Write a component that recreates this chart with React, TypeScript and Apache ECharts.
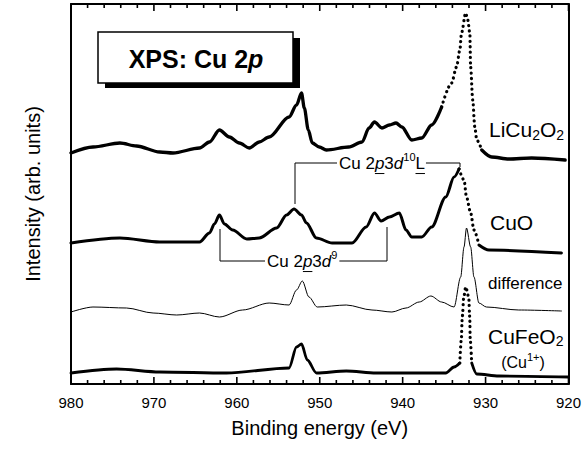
import React, { useEffect, useRef } from "react";
import * as echarts from "echarts";

// Binding energy (eV) vs intensity (arb. units, stacked offsets)
const energyTicks = [980, 970, 960, 950, 940, 930, 920];
const minorEnergyTicks = [
  978, 976, 974, 972, 968, 966, 964, 962, 958, 956, 954, 952, 948, 946, 944, 942,
  938, 936, 934, 932, 928, 926, 924, 922,
];

const liCu2O2: [number, number][] = [
  [980, 231], [977.35, 237], [974.1, 241], [972.1, 238], [969.3, 232], [967.7, 231],
  [964.5, 236], [963.3, 242], [962.1, 254], [960.9, 247], [959.7, 241], [958.5, 236],
  [957.3, 242], [956.1, 247], [953.7, 267], [952.8, 279], [952.2, 291], [951.86, 276],
  [951.38, 254], [950.9, 241], [950.06, 237], [949.2, 234], [946.5, 237], [944.9, 242],
  [944.05, 256], [943.4, 262], [942.5, 256], [941.6, 259], [940.8, 261], [940.1, 257],
  [938.9, 244], [937.7, 246], [936.5, 259], [935.3, 277], [934.1, 301], [933.5, 317],
  [933.1, 334], [932.9, 351], [932.4, 371], [932.15, 364], [931.9, 351], [931.8, 317],
  [931.55, 284], [931.3, 257], [931.06, 244], [930.46, 234], [929.26, 227], [927.2, 225],
  [924.45, 226], [920.4, 224],
];

const cuO: [number, number][] = [
  [980, 141], [974.1, 146], [969.3, 142], [964.5, 142], [963.3, 151], [962.7, 160],
  [962.1, 169], [961.5, 160], [960.5, 154], [958.8, 145], [957.3, 146], [955.2, 156],
  [954.0, 169], [953.1, 175], [952.2, 169], [951.6, 161], [950.4, 146], [948.5, 141],
  [946.1, 141], [944.4, 157], [943.4, 171], [942.6, 163], [941.6, 167], [940.4, 171],
  [939.6, 154], [938.9, 147], [937.7, 147], [936.5, 157], [934.8, 187], [933.8, 207],
  [933.2, 215], [932.6, 204], [932.3, 187], [931.8, 171], [931.4, 154], [930.8, 139],
  [929.6, 134], [920.85, 131],
];

const difference: [number, number][] = [
  [980, 72], [977.35, 77], [973.3, 76], [970.1, 71], [967.25, 69], [964.5, 71],
  [962.1, 67], [959.3, 74], [956.1, 81], [953.7, 79], [952.8, 94], [952.1, 103],
  [951.3, 87], [950.3, 77], [946.8, 79], [943.7, 74], [941.3, 72], [939.6, 76],
  [938.0, 82], [936.6, 88], [935.3, 82], [933.8, 77], [933.0, 107], [932.6, 137],
  [932.3, 156], [931.8, 137], [931.4, 107], [930.8, 81], [929.9, 77], [926.0, 74],
  [920.85, 73],
];

const cuFeO2: [number, number][] = [
  [980, 11], [974.5, 15], [969.3, 12], [961.25, 11], [953.7, 16], [952.8, 37],
  [952.2, 40], [951.5, 24], [950.4, 11], [946.8, 13], [943.2, 11], [934.8, 11],
  [933.8, 17], [933.11, 21], [932.93, 44], [932.81, 67], [932.63, 87], [932.39, 97],
  [932.03, 87], [931.91, 67], [931.85, 44], [931.67, 21], [931.06, 10], [928.4, 8],
  [920, 7],
];

const FONT = '"Liberation Sans", Arial, Helvetica, sans-serif';
const Y_MAX = 380;

type Run = { t: string; size: number; italic?: boolean; bold?: boolean; dy?: number; underline?: boolean };

function fontStr(r: Run) {
  return `${r.italic ? "italic " : ""}${r.bold ? "bold " : ""}${r.size}px ${FONT}`;
}

let mctx: CanvasRenderingContext2D | null = null;
function measure(r: Run) {
  if (!mctx) mctx = document.createElement("canvas").getContext("2d");
  mctx!.font = fontStr(r);
  return mctx!.measureText(r.t).width;
}

function textRuns(x: number, y: number, list: Run[], align: "left" | "center" | "right" = "left") {
  const widths = list.map(measure);
  const total = widths.reduce((a, b) => a + b, 0);
  let cx = align === "left" ? x : align === "right" ? x - total : x - total / 2;
  const start = cx;
  const els: any[] = [];
  list.forEach((r, i) => {
    els.push({
      type: "text",
      x: cx,
      y: y + (r.dy || 0),
      silent: true,
      style: {
        text: r.t,
        font: fontStr(r),
        fill: "#000",
        textAlign: "left",
        textVerticalAlign: "middle",
        verticalAlign: "middle",
      },
    });
    if (r.underline) {
      const uy = y + (r.dy || 0) + r.size * 0.62;
      els.push({
        type: "line",
        silent: true,
        shape: { x1: cx, y1: uy, x2: cx + widths[i], y2: uy },
        style: { stroke: "#000", lineWidth: 1 },
      });
    }
    cx += widths[i];
  });
  return { els, start, end: cx };
}

function split(data: [number, number][], from: number, to: number) {
  return [
    data.filter((p) => p[0] >= from),
    data.filter((p) => p[0] <= from && p[0] >= to),
    data.filter((p) => p[0] <= to),
  ];
}

function line(data: [number, number][], width: number, dotted = false) {
  return {
    type: "line",
    data,
    symbol: "none",
    showSymbol: false,
    smooth: 0.3,
    smoothMonotone: "x",
    silent: true,
    xAxisIndex: 0,
    yAxisIndex: 0,
    z: 3,
    lineStyle: dotted
      ? { color: "#000", width: 3.2, type: [0.1, 5.2], cap: "round" }
      : { color: "#000", width, cap: "round", join: "round" },
  };
}

// tick marks drawn as thin rectangular symbols sitting on the frame edges
function tickSeries(values: number[], atY: number, len: number, down: boolean) {
  return {
    type: "scatter",
    xAxisIndex: 0,
    yAxisIndex: 0,
    silent: true,
    clip: false,
    z: 10,
    symbol: "rect",
    symbolSize: [1.6, len],
    symbolOffset: [0, down ? len / 2 : -len / 2],
    itemStyle: { color: "#000", opacity: 1 },
    emphasis: { disabled: true },
    data: values.map((e) => [e, atY]),
  };
}

function buildGraphics() {
  const g: any[] = [];
  // title box with shadow
  g.push({ type: "rect", silent: true, shape: { x: 105, y: 38, width: 195, height: 50 }, style: { fill: "#000" } });
  g.push({ type: "rect", silent: true, shape: { x: 98, y: 32, width: 195, height: 51 }, style: { fill: "#fff", stroke: "#000", lineWidth: 1.5 } });
  g.push(
    ...textRuns(196, 59, [
      { t: "XPS: Cu 2", size: 25, bold: true },
      { t: "p", size: 25, bold: true, italic: true },
    ], "center").els
  );

  // sample labels
  g.push(
    ...textRuns(489, 129, [
      { t: "LiCu", size: 21 },
      { t: "2", size: 14, dy: 6 },
      { t: "O", size: 21 },
      { t: "2", size: 14, dy: 6 },
    ]).els
  );
  g.push(...textRuns(490, 222, [{ t: "CuO", size: 21 }]).els);
  g.push(...textRuns(488, 283, [{ t: "difference", size: 17 }]).els);
  g.push(
    ...textRuns(488, 336, [
      { t: "CuFeO", size: 21 },
      { t: "2", size: 14, dy: 5 },
    ]).els
  );
  g.push(
    ...textRuns(523, 362, [
      { t: "(Cu", size: 16 },
      { t: "1+", size: 11, dy: -5 },
      { t: ")", size: 16 },
    ], "center").els
  );

  // Cu 2p3d10L bracket
  const a = textRuns(339, 163, [
    { t: "Cu 2", size: 17 },
    { t: "p", size: 17, italic: true, underline: true },
    { t: "3", size: 17 },
    { t: "d", size: 17, italic: true },
    { t: "10", size: 11, dy: -6 },
    { t: "L", size: 17, underline: true },
  ]);
  g.push(...a.els);
  g.push({ type: "polyline", silent: true, shape: { points: [[295, 204], [295, 163], [a.start - 2, 163]] }, style: { stroke: "#000", lineWidth: 1, fill: null } });
  g.push({ type: "polyline", silent: true, shape: { points: [[a.end + 1, 163], [460, 163], [460, 167]] }, style: { stroke: "#000", lineWidth: 1, fill: null } });

  // Cu 2p3d9 bracket
  const b = textRuns(267, 261, [
    { t: "Cu 2", size: 17 },
    { t: "p", size: 17, italic: true, underline: true },
    { t: "3", size: 17 },
    { t: "d", size: 17, italic: true },
    { t: "9", size: 11, dy: -6 },
  ]);
  g.push(...b.els);
  g.push({ type: "polyline", silent: true, shape: { points: [[220, 229], [220, 261], [b.start - 2, 261]] }, style: { stroke: "#000", lineWidth: 1, fill: null } });
  g.push({ type: "polyline", silent: true, shape: { points: [[b.end + 2, 261], [387, 261], [387, 227]] }, style: { stroke: "#000", lineWidth: 1, fill: null } });
  return g;
}

function buildOption() {
  const [liA, liB, liC] = split(liCu2O2, 935.3, 930.46);
  const [cuA, cuB, cuC] = split(cuO, 933.2, 930.8);
  const [feA, feB, feC] = split(cuFeO2, 933.11, 931.67);
  const tickSet = new Set(energyTicks.map(String));
  const mkX = (pos: "top" | "bottom") => ({
    type: "value",
    position: pos,
    min: 920,
    max: 980,
    interval: 10,
    inverse: true,
    axisLine: { show: true, onZero: false, lineStyle: { color: "#000", width: 2 } },
    axisTick: { show: false },
    minorTick: { show: false },
    splitLine: { show: false },
  });
  const mkY = (pos: "left" | "right") => ({
    type: "value",
    position: pos,
    min: 0,
    max: Y_MAX,
    axisLine: { show: true, onZero: false, lineStyle: { color: "#000", width: 2 } },
    axisTick: { show: false },
    axisLabel: { show: false },
    splitLine: { show: false },
  });
  return {
    animation: false,
    backgroundColor: "#fff",
    grid: { left: 71, right: 14, top: 4, bottom: 65 },
    xAxis: [
      {
        ...mkX("bottom"),
        name: "Binding energy (eV)",
        nameLocation: "middle",
        nameGap: 34,
        nameTextStyle: { fontFamily: FONT, fontSize: 20, color: "#000" },
        axisLabel: {
          show: true,
          margin: 11,
          fontFamily: FONT,
          fontSize: 15,
          color: "#000",
          formatter: (v: number) => (tickSet.has(String(v)) ? String(v) : ""),
        },
      },
      { ...mkX("top"), axisLabel: { show: false } },
    ],
    yAxis: [
      {
        ...mkY("left"),
        name: "Intensity (arb. units)",
        nameLocation: "middle",
        nameGap: 28,
        nameTextStyle: { fontFamily: FONT, fontSize: 20, color: "#000" },
      },
      mkY("right"),
    ],
    series: [
      line(liA, 3.3), line(liB, 3, true), line(liC, 3.3),
      line(cuA, 3), line(cuB, 3, true), line(cuC, 3),
      line(difference, 1),
      line(feA, 2.8), line(feB, 3, true), line(feC, 2.8),
      tickSeries(energyTicks, 0, 7, false),
      tickSeries(energyTicks, Y_MAX, 7, true),
      tickSeries(minorEnergyTicks, 0, 4, false),
      tickSeries(minorEnergyTicks, Y_MAX, 4, true),
    ],
    graphic: buildGraphics(),
  };
}

export default function App() {
  const ref = useRef<HTMLDivElement>(null);
  useEffect(() => {
    const chart = echarts.init(ref.current!, undefined, { renderer: "svg" });
    chart.setOption(buildOption() as any);
    return () => chart.dispose();
  }, []);
  return (
    <div
      ref={ref}
      style={{ position: "absolute", left: 0, top: 0, width: 584, height: 449, background: "#fff" }}
    />
  );
}
